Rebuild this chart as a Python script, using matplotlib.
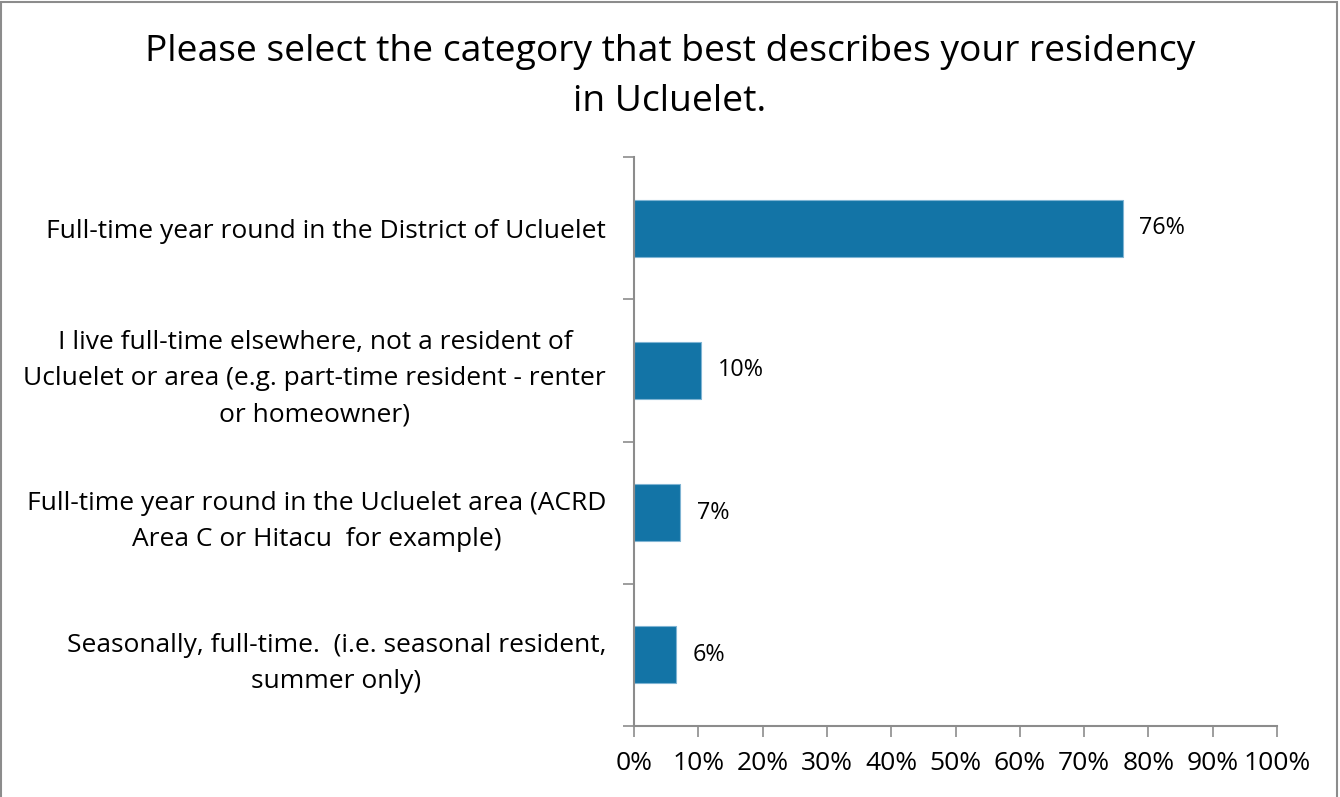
import matplotlib.pyplot as plt
from matplotlib.patches import Rectangle

plt.rcParams['font.family'] = ['Open Sans', 'DejaVu Sans']

# survey answers, top to bottom
categories = [
    "Full-time year round in the District of Ucluelet",
    "I live full-time elsewhere, not a resident of\nUcluelet or area (e.g. part-time resident - renter\nor homeowner)",
    "Full-time year round in the Ucluelet area (ACRD\nArea C or Hitacu  for example)",
    "Seasonally, full-time.  (i.e. seasonal resident,\nsummer only)",
]
shares = [0.76, 0.104, 0.072, 0.065]
share_labels = ["76%", "10%", "7%", "6%"]
x_ticks = [i / 10 for i in range(11)]
x_tick_labels = [f"{i * 10}%" for i in range(11)]

bar_color = "#1374A6"
axis_color = "#8c8c8c"

fig = plt.figure(figsize=(13.4, 7.97), dpi=100)
ax = fig.add_axes([634 / 1340, 1 - 726 / 797, 643 / 1340, (726 - 157) / 797])

pos = list(range(len(categories)))
ax.barh(pos, shares, height=0.4, color=bar_color, edgecolor="#7fb4d3", linewidth=0.8)

for p, v, lab in zip(pos, shares, share_labels):
    ax.text(v + 0.026, p, lab, va="center", ha="left", fontsize=16.8)

ax.set_xlim(0, 1)
ax.set_ylim(len(categories) - 0.5, -0.5)
ax.set_xticks(x_ticks)
ax.set_xticklabels(x_tick_labels, fontsize=19)

# category labels sit between boundary ticks
ax.set_yticks(pos)
ax.set_yticklabels(categories, fontsize=19)
for t in ax.get_yticklabels():
    t.set_multialignment("center")
    t.set_linespacing(1.58)
ax.tick_params(axis="y", which="major", length=0, pad=20)
ax.set_yticks([p - 0.5 for p in pos] + [len(categories) - 0.5], minor=True)
ax.tick_params(axis="y", which="minor", length=8, color=axis_color, width=1.2)
ax.tick_params(axis="x", length=8, color=axis_color, width=1.2, pad=10)

for side in ["top", "right"]:
    ax.spines[side].set_visible(False)
for side in ["left", "bottom"]:
    ax.spines[side].set_color(axis_color)
    ax.spines[side].set_linewidth(1.5)

fig.text(0.5, 1 - 52 / 797, "Please select the category that best describes your residency",
         ha="center", va="center", fontsize=26.8)
fig.text(0.5, 1 - 102 / 797, "in Ucluelet.", ha="center", va="center", fontsize=26.8)

# gray frame round the chart area
fig.patches.append(Rectangle((0.001, -0.01), 0.997, 1.008, transform=fig.transFigure,
                             fill=False, edgecolor=axis_color, linewidth=1.5))

fig.savefig("out.png", dpi=100)
